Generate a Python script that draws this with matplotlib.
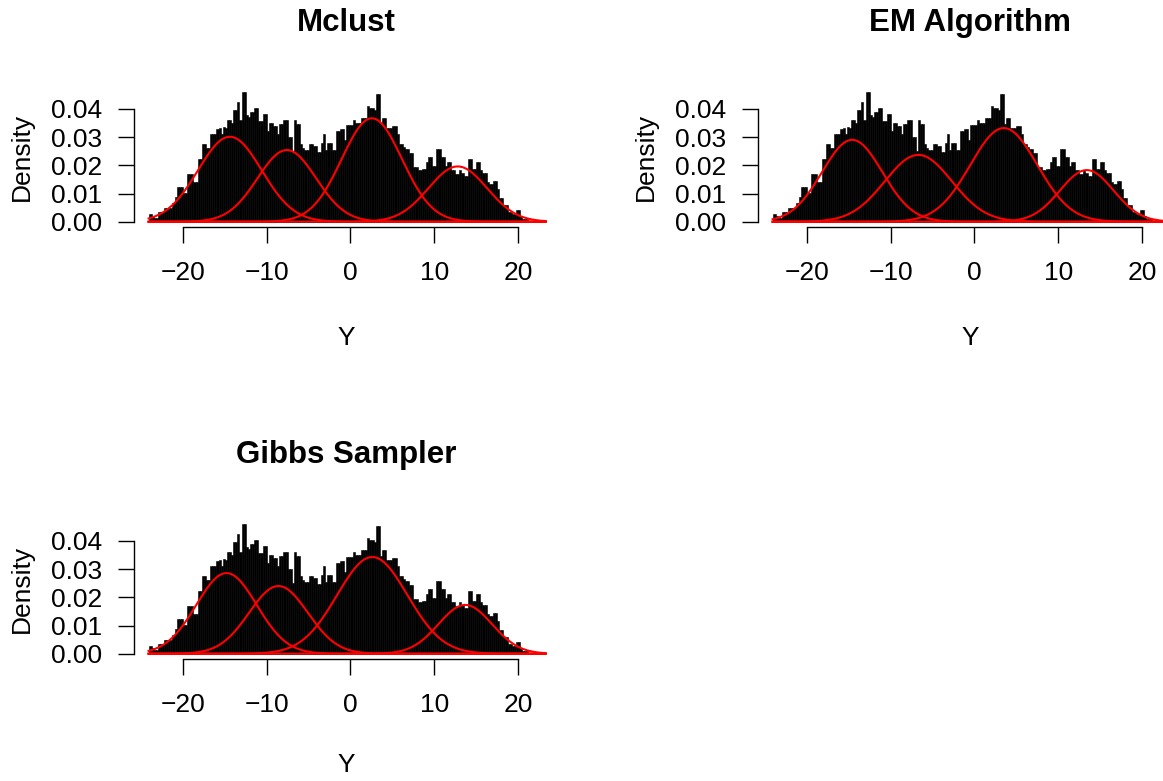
import numpy as np
import matplotlib.pyplot as plt
from matplotlib.ticker import FormatStrFormatter

plt.rcParams['font.family'] = ['Liberation Sans', 'DejaVu Sans']

# Histogram of Y (density scale), bins of width 0.25 starting at -24
bin_start = -24.0
bin_width = 0.25
density = [
    0.0026, 0.0020, 0.0012, 0.0012,   # -24
    0.0035, 0.0035, 0.0035, 0.0050,   # -23
    0.0050, 0.0050, 0.0050, 0.0066,   # -22
    0.0089, 0.0122, 0.0122, 0.0122,   # -21
    0.0102, 0.0102, 0.0168, 0.0168,   # -20
    0.0170, 0.0142, 0.0142, 0.0222,   # -19
    0.0222, 0.0274, 0.0274, 0.0260,   # -18
    0.0260, 0.0310, 0.0310, 0.0310,   # -17
    0.0330, 0.0333, 0.0310, 0.0336,   # -16
    0.0333, 0.0360, 0.0360, 0.0349,   # -15
    0.0396, 0.0396, 0.0423, 0.0360,   # -14
    0.0459, 0.0459, 0.0380, 0.0370,   # -13
    0.0388, 0.0388, 0.0404, 0.0404,   # -12
    0.0358, 0.0358, 0.0383, 0.0383,   # -11
    0.0321, 0.0349, 0.0349, 0.0340,   # -10
    0.0340, 0.0310, 0.0345, 0.0345,   # -9
    0.0360, 0.0360, 0.0302, 0.0302,   # -8
    0.0250, 0.0362, 0.0345, 0.0345,   # -7
    0.0274, 0.0260, 0.0255, 0.0255,   # -6
    0.0277, 0.0277, 0.0270, 0.0270,   # -5
    0.0247, 0.0247, 0.0280, 0.0310,   # -4
    0.0255, 0.0280, 0.0280, 0.0255,   # -3
    0.0255, 0.0321, 0.0321, 0.0328,   # -2
    0.0328, 0.0290, 0.0343, 0.0343,   # -1
    0.0343, 0.0360, 0.0349, 0.0349,   # 0
    0.0349, 0.0369, 0.0369, 0.0369,   # 1
    0.0411, 0.0404, 0.0404, 0.0396,   # 2
    0.0452, 0.0452, 0.0345, 0.0369,   # 3
    0.0369, 0.0333, 0.0333, 0.0333,   # 4
    0.0340, 0.0340, 0.0310, 0.0274,   # 5
    0.0274, 0.0266, 0.0257, 0.0257,   # 6
    0.0242, 0.0242, 0.0195, 0.0195,   # 7
    0.0183, 0.0183, 0.0186, 0.0186,   # 8
    0.0211, 0.0230, 0.0230, 0.0198,   # 9
    0.0198, 0.0257, 0.0257, 0.0230,   # 10
    0.0230, 0.0198, 0.0210, 0.0210,   # 11
    0.0185, 0.0185, 0.0170, 0.0170,   # 12
    0.0185, 0.0172, 0.0162, 0.0162,   # 13
    0.0224, 0.0224, 0.0187, 0.0187,   # 14
    0.0210, 0.0210, 0.0185, 0.0172,   # 15
    0.0172, 0.0140, 0.0134, 0.0134,   # 16
    0.0146, 0.0146, 0.0116, 0.0083,   # 17
    0.0083, 0.0060, 0.0060, 0.0034,   # 18
    0.0034, 0.0028, 0.0028, 0.0040,   # 19
    0.0040, 0.0022, 0.0010, 0.0010,   # 20
    0.0008, 0.0004, 0.0004, 0.0004,   # 21
    0.0004, 0.0000, 0.0000, 0.0000,   # 22
]
y_min, y_max = -24.1, 23.3

# Fitted mixture components (weight, mean, sd) for each method
mclust_weights = [0.287, 0.223, 0.331, 0.172]
mclust_means = [-14.4, -7.6, 2.55, 12.8]
mclust_sds = [3.8, 3.5, 3.6, 3.5]

em_weights = [0.262, 0.2376, 0.333, 0.1468]
em_means = [-14.6, -6.7, 3.5, 13.4]
em_sds = [3.6, 4.0, 4.0, 3.2]

gibbs_weights = [0.258, 0.2106, 0.361, 0.1388]
gibbs_means = [-14.8, -8.6, 2.6, 13.7]
gibbs_sds = [3.6, 3.5, 4.2, 3.2]

titles = ["Mclust", "EM Algorithm", "Gibbs Sampler"]

W, H = 1163, 781
fig = plt.figure(figsize=(W / 100, H / 100), dpi=100)


def add_panel(left, top, right, bottom):
    return fig.add_axes([left / W, 1 - bottom / H, (right - left) / W, (bottom - top) / H])


def draw_panel(dx, dy, title, weights, means, sds, ylab_y):
    left, top, right, bottom = 133.7 + dx, 87.2 + dy, 558.9 + dx, 226.8 + dy
    ax = add_panel(left, top, right, bottom)
    edges = bin_start + bin_width * np.arange(len(density))
    ax.bar(edges, density, width=bin_width, align='edge', color='black',
           edgecolor='black', linewidth=0.4)
    xs = np.linspace(y_min, y_max, 600)
    for w, m, s in zip(weights, means, sds):
        ys = w * np.exp(-0.5 * ((xs - m) / s) ** 2) / (s * np.sqrt(2 * np.pi))
        ax.plot(xs, ys, color='red', linewidth=1.5, clip_on=False)
    ax.set_xlim(-25.88, 24.88)
    ax.set_ylim(-0.0018, 0.0477)
    ax.set_xticks([-20, -10, 0, 10, 20])
    ax.set_yticks([0, 0.01, 0.02, 0.03, 0.04])
    ax.yaxis.set_major_formatter(FormatStrFormatter('%.2f'))
    ax.tick_params(direction='out', length=11.5, width=1.0, labelsize=19)
    ax.tick_params(axis='x', pad=13)
    ax.tick_params(axis='y', pad=11)
    for side in ['top', 'right']:
        ax.spines[side].set_visible(False)
    ax.spines['left'].set_bounds(0, 0.04)
    ax.spines['bottom'].set_bounds(-20, 20)
    ax.spines['left'].set_linewidth(1.0)
    ax.spines['bottom'].set_linewidth(1.0)
    cx = (left + right) / 2
    fig.text(cx / W, 1 - (23.4 + dy) / H, title, ha='center', va='center',
             fontsize=22.5, fontweight='bold')
    fig.text(cx / W, 1 - ylab_y / H, "Y", ha='center', va='center', fontsize=19)
    fig.text((22 + dx) / W, 1 - ((top + bottom) / 2) / H, "Density", ha='center',
             va='center', rotation=90, fontsize=19)
    return ax


draw_panel(0, 0, titles[0], mclust_weights, mclust_means, mclust_sds, 338)
draw_panel(624, 0, titles[1], em_weights, em_means, em_sds, 338)
draw_panel(0, 432, titles[2], gibbs_weights, gibbs_means, gibbs_sds, 765)

fig.savefig("out.png", dpi=100)
